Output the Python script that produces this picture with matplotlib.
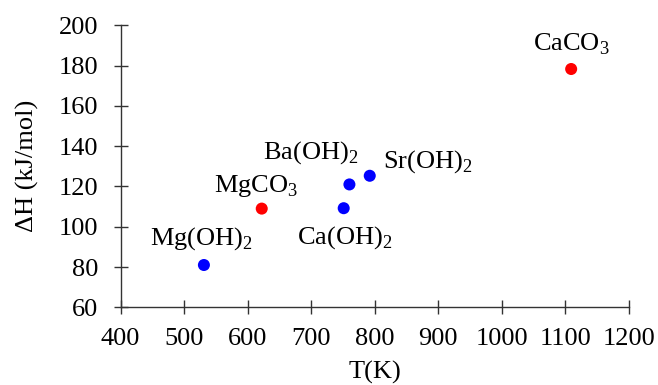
import matplotlib
matplotlib.use("Agg")
import matplotlib.pyplot as plt

plt.rcParams['font.family'] = ['Liberation Serif', 'DejaVu Serif']
plt.rcParams['mathtext.fontset'] = 'custom'
plt.rcParams['mathtext.rm'] = 'Liberation Serif'
plt.rcParams['font.size'] = 19

# data
names = [r"Mg(OH)$_2$", r"MgCO$_3$", r"Ca(OH)$_2$", r"Ba(OH)$_2$", r"Sr(OH)$_2$", r"CaCO$_3$"]
temp_k = [531, 622, 751, 760, 792, 1109]
dh = [81, 109, 109.2, 121, 125.3, 178.3]
colors = ['#0000ff', '#ff0000', '#0000ff', '#0000ff', '#0000ff', '#ff0000']
# label offsets (points) relative to each marker
offsets = [(-2, 19), (-4, 16), (1, -21), (-28, 23), (42, 10), (0, 18)]

fig = plt.figure(figsize=(6.58, 3.85), dpi=100)
ax = fig.add_axes([0.1834, 0.2018, 0.7725, 0.7325])

ax.scatter(temp_k, dh, c=colors, s=75, zorder=3, linewidths=0)
for name, x, y, off in zip(names, temp_k, dh, offsets):
    ax.annotate(name, (x, y), xytext=off, textcoords='offset points',
                ha='center', va='center', fontsize=19)

ax.set_xlim(400, 1200)
ax.set_ylim(60, 200)
ax.set_xticks(range(400, 1201, 100))
ax.set_yticks(range(60, 201, 20))
for s in ['top', 'right']:
    ax.spines[s].set_visible(False)
for s in ['left', 'bottom']:
    ax.spines[s].set_color('#333333')
    ax.spines[s].set_linewidth(1.0)
ax.tick_params(direction='inout', length=10, width=1.0, color='#333333')
ax.tick_params(axis='x', pad=10)
ax.tick_params(axis='y', pad=11)

ax.set_xlabel("T(K)", fontsize=19, labelpad=8)
ax.set_ylabel("ΔH (kJ/mol)", fontsize=19, labelpad=14)

fig.savefig("out.png", dpi=100)
